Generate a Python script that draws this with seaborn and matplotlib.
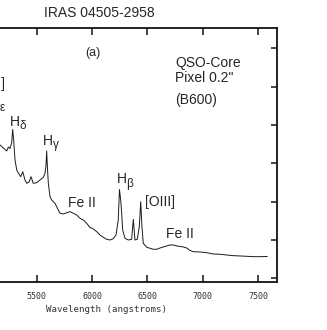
import matplotlib
matplotlib.use("Agg")
import matplotlib.pyplot as plt
import numpy as np
import pandas as pd
import seaborn as sns

# spectrum (wavelength in angstroms, flux in tick units)
wavelength = [5169, 5199, 5229, 5244, 5259, 5274, 5283, 5292, 5304, 5320,
              5334, 5356, 5374, 5394, 5410, 5433, 5449, 5469, 5500, 5530,
              5560, 5575, 5584, 5590, 5597, 5605, 5620, 5635, 5665, 5695,
              5710, 5740, 5771, 5801, 5830, 5861, 5891, 5921, 5951, 5981,
              6011, 6042, 6071, 6101, 6132, 6162, 6191, 6216, 6236, 6247,
              6258, 6267, 6276, 6297, 6327, 6357, 6372, 6387, 6408, 6426,
              6439, 6450, 6462, 6493, 6523, 6552, 6583, 6613, 6643, 6673,
              6703, 6733, 6764, 6793, 6823, 6854, 6884, 6913, 6974, 7034,
              7094, 7154, 7215, 7274, 7335, 7395, 7455, 7515, 7581]
flux = [3.478, 3.399, 3.321, 3.425, 3.386, 3.530, 3.882, 3.608, 3.086, 2.826,
        2.747, 2.651, 2.781, 2.565, 2.478, 2.520, 2.651, 2.478, 2.494, 2.565,
        2.635, 2.739, 2.956, 3.321, 2.878, 2.478, 2.129, 2.043, 1.957, 1.782,
        1.696, 1.678, 1.711, 1.738, 1.696, 1.651, 1.565, 1.521, 1.435, 1.325,
        1.286, 1.216, 1.130, 1.070, 1.017, 0.999, 1.033, 1.130, 1.521, 2.317,
        2.043, 1.696, 1.260, 1.044, 0.999, 1.017, 1.539, 0.999, 1.017, 1.346,
        1.998, 1.346, 0.913, 0.809, 0.783, 0.757, 0.757, 0.790, 0.817, 0.843,
        0.869, 0.869, 0.843, 0.830, 0.817, 0.790, 0.725, 0.694, 0.686, 0.668,
        0.634, 0.626, 0.608, 0.590, 0.582, 0.574, 0.564, 0.564, 0.569]

x_ticks = [5500, 6000, 6500, 7000, 7500]
y_ticks = [0, 1, 2, 3, 4, 5, 6]

# plain line labels: text, wavelength, flux (baseline), alignment
line_labels = ["[NeIII]", "Fe II", "[OIII]", "Fe II"]
label_wl = [5214, 5906, 6477, 6791]
label_fx = [4.965, 1.85, 1.88, 1.06]
label_ha = ["right", "center", "left", "center"]

# Balmer lines: "H" + greek subscript, left edge of the H
balmer_sub = ["ε", "δ", "γ", "β"]
balmer_wl = [5075, 5259, 5560, 6222]
balmer_fx = [4.45, 3.973, 3.478, 2.478]

info_lines = ["QSO-Core", 'Pixel 0.2"', "(B600)"]
info_fx = [5.520, 5.129, 4.547]

sns.set_style("ticks")
plt.rcParams["font.family"] = ["Liberation Sans", "DejaVu Sans"]

df = pd.DataFrame({"wavelength": wavelength, "flux": flux})

fig = plt.figure(figsize=(3.27, 3.30), dpi=100)
# the original figure is cropped on the left, so the axes run off the canvas
ax = fig.add_axes([-65 / 327, 48 / 330, 342 / 327, 254 / 330])

sns.lineplot(data=df, x="wavelength", y="flux", ax=ax, color="#1a1a1a",
             linewidth=0.7, estimator=None, sort=False)

ax.set_xlim(4582, 7669)
ax.set_ylim(-0.097, 6.53)
ax.set_xticks(x_ticks)
ax.set_yticks(y_ticks)
ax.set_yticklabels([])
ax.tick_params(axis="x", direction="in", top=True, length=5, width=1.2,
               labelsize=6, pad=7, labelfontfamily="DejaVu Sans Mono",
               labelcolor="#333333")
ax.tick_params(axis="y", direction="in", right=True, left=False,
               length=4.5, width=1.2)
for s in ax.spines.values():
    s.set_linewidth(1.3)
    s.set_color("#111111")

ax.set_xlabel("Wavelength (angstroms)", fontsize=6.6, labelpad=3,
              family="DejaVu Sans Mono", color="#333333")
ax.set_ylabel("")

for txt, wl, fx, ha in zip(line_labels, label_wl, label_fx, label_ha):
    ax.text(wl, fx, txt, ha=ha, va="baseline", fontsize=10)

for sub, wl, fx in zip(balmer_sub, balmer_wl, balmer_fx):
    ax.text(wl, fx, "H", ha="left", va="baseline", fontsize=10)
    ax.annotate(sub, xy=(wl, fx), xytext=(7.0, -2.4),
                textcoords="offset points", ha="left", va="baseline",
                fontsize=8.5)

ax.text(6004, 5.878, "(a)", ha="center", va="center", fontsize=9)
for txt, fx in zip(info_lines, info_fx):
    ax.text(6748, fx, txt, ha="left", va="baseline", fontsize=10)

fig.text(99 / 327, 1 - 13 / 330, "IRAS 04505-2958", ha="center",
         va="center", fontsize=10)

fig.savefig("out.png", dpi=100)
plt.close(fig)
